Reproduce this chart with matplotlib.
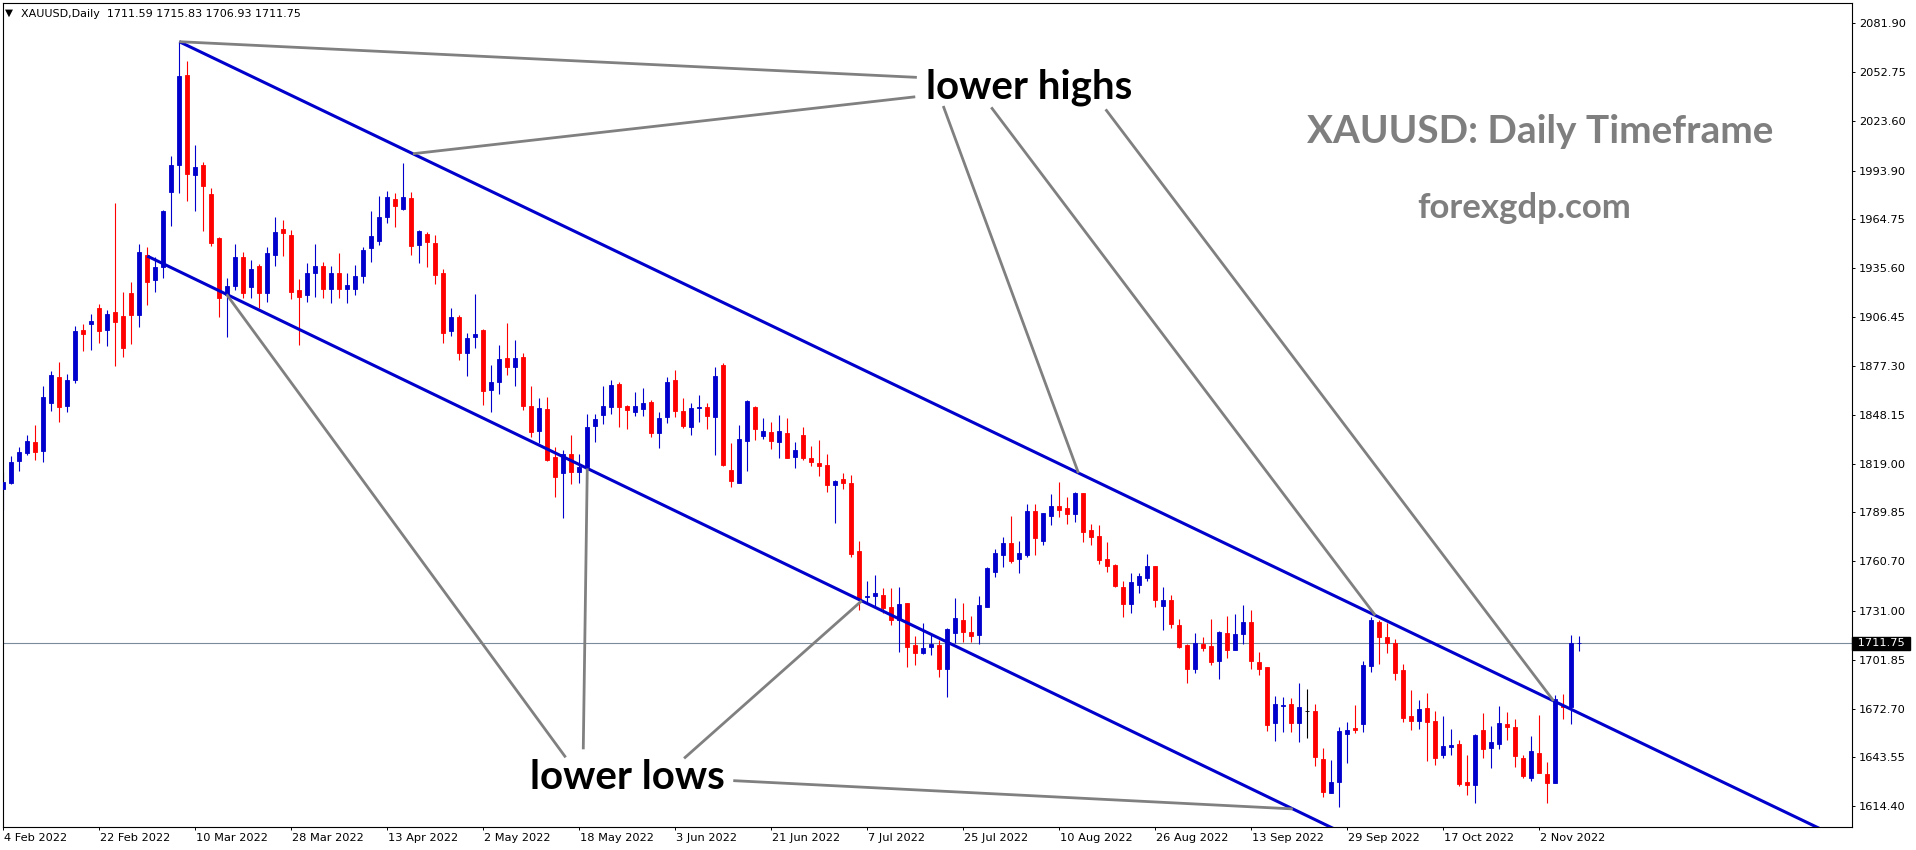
import matplotlib
matplotlib.use("Agg")
import matplotlib.pyplot as plt
import matplotlib.transforms as mtrans
import numpy as np

# daily candles XAUUSD, 4 Feb 2022 .. 9 Nov 2022
opens = [1803.6, 1807.6, 1820.5, 1825.1, 1832.0, 1826.7, 1855.4, 1870.5, 1853.4, 1869.0,
         1898.8, 1902.4, 1911.7, 1898.8, 1909.7, 1907.1, 1920.6, 1907.7, 1943.5, 1928.6,
         1936.5, 1981.3, 1997.2, 2050.9, 1991.2, 1997.2, 1979.9, 1953.9, 1919.6, 1924.9,
         1942.1, 1924.5, 1936.9, 1921.0, 1943.5, 1958.8, 1955.4, 1922.6, 1919.6, 1932.9,
         1936.9, 1923.5, 1932.5, 1923.0, 1923.5, 1930.9, 1947.5, 1952.0, 1966.4, 1976.7,
         1971.3, 1977.3, 1949.5, 1956.0, 1950.9, 1932.9, 1898.4, 1906.3, 1885.2, 1894.7,
         1899.0, 1862.9, 1867.9, 1881.8, 1876.4, 1882.4, 1853.3, 1838.6, 1851.3, 1823.1,
         1813.5, 1824.7, 1814.1, 1816.7, 1841.4, 1847.9, 1852.9, 1866.5, 1853.3, 1849.9,
         1851.3, 1855.9, 1837.0, 1846.6, 1868.8, 1850.5, 1840.6, 1852.0, 1852.5, 1847.0,
         1877.8, 1815.1, 1807.6, 1832.6, 1852.9, 1835.4, 1838.0, 1832.0, 1837.4, 1823.1,
         1836.0, 1822.5, 1819.5, 1818.1, 1806.2, 1809.5, 1807.2, 1766.9, 1739.1, 1739.9,
         1740.5, 1733.5, 1725.5, 1735.5, 1710.6, 1706.1, 1709.2, 1710.6, 1696.1, 1717.6,
         1725.5, 1718.6, 1716.6, 1733.5, 1754.4, 1764.4, 1771.3, 1761.8, 1764.4, 1790.7,
         1772.9, 1787.9, 1793.6, 1792.2, 1788.9, 1801.6, 1779.3, 1775.7, 1761.8, 1758.4,
         1745.5, 1735.1, 1746.5, 1750.9, 1757.8, 1734.1, 1737.5, 1722.6, 1710.7, 1696.3,
         1711.2, 1710.1, 1701.3, 1717.6, 1707.7, 1717.2, 1724.2, 1700.7, 1697.7, 1663.9,
         1674.0, 1675.4, 1664.3, 1671.4, 1671.2, 1642.6, 1622.5, 1629.1, 1657.5, 1661.3,
         1663.5, 1698.3, 1724.6, 1715.6, 1711.7, 1695.7, 1668.3, 1665.5, 1673.0, 1665.3,
         1645.0, 1649.9, 1651.5, 1629.1, 1627.1, 1659.9, 1649.4, 1651.5, 1663.3, 1661.9,
         1643.0, 1631.4, 1646.0, 1633.6, 1628.5, 1674.6, 1673.8, 1711.59]
highs = [1814.1, 1823.5, 1829.1, 1836.0, 1842.0, 1865.3, 1874.4, 1879.8, 1872.5, 1901.2,
         1902.4, 1908.3, 1914.3, 1910.7, 1974.7, 1921.6, 1927.6, 1950.1, 1948.1, 1942.1,
         1970.7, 2002.6, 2070.9, 2059.3, 2009.2, 1998.8, 1983.3, 1954.4, 1929.6, 1950.1,
         1945.1, 1940.5, 1937.9, 1948.1, 1966.0, 1964.4, 1958.4, 1929.0, 1938.5, 1950.1,
         1939.5, 1936.9, 1944.5, 1932.9, 1937.5, 1948.1, 1969.9, 1978.7, 1981.9, 1980.3,
         1998.2, 1981.3, 1958.4, 1957.4, 1955.4, 1934.9, 1911.7, 1907.7, 1897.1, 1920.2,
         1899.6, 1877.8, 1889.7, 1903.0, 1892.7, 1885.2, 1865.3, 1857.9, 1858.5, 1828.7,
         1827.1, 1836.0, 1824.7, 1848.9, 1848.9, 1865.3, 1869.2, 1867.9, 1853.9, 1861.9,
         1863.9, 1856.9, 1849.9, 1870.8, 1874.8, 1857.9, 1854.9, 1859.9, 1855.3, 1876.4,
         1879.2, 1831.4, 1842.0, 1856.9, 1853.3, 1846.0, 1844.0, 1848.0, 1846.0, 1832.0,
         1840.6, 1829.4, 1833.0, 1824.7, 1809.2, 1813.5, 1812.1, 1772.9, 1749.0, 1752.4,
         1744.5, 1744.5, 1745.5, 1735.9, 1716.0, 1723.6, 1716.6, 1713.6, 1720.6, 1738.5,
         1735.5, 1727.9, 1739.9, 1757.0, 1768.2, 1775.3, 1787.7, 1772.7, 1794.8, 1794.8,
         1789.6, 1800.8, 1808.2, 1799.2, 1802.2, 1801.6, 1782.9, 1782.3, 1772.3, 1759.0,
         1748.9, 1753.4, 1753.4, 1765.0, 1757.8, 1745.5, 1740.5, 1726.0, 1711.2, 1718.0,
         1715.6, 1726.0, 1719.2, 1728.0, 1729.2, 1734.5, 1731.5, 1706.7, 1697.7, 1680.2,
         1679.8, 1678.8, 1688.2, 1684.2, 1675.4, 1648.9, 1642.0, 1661.9, 1664.9, 1674.8,
         1701.1, 1727.6, 1725.6, 1724.0, 1714.2, 1699.3, 1683.8, 1677.8, 1682.2, 1671.4,
         1668.3, 1660.5, 1653.9, 1645.0, 1657.5, 1670.3, 1662.3, 1674.2, 1670.7, 1666.3,
         1645.0, 1656.3, 1668.9, 1640.8, 1680.8, 1681.4, 1716.6, 1715.83]
lows = [1791.3, 1806.9, 1814.7, 1824.1, 1821.1, 1820.1, 1850.6, 1844.0, 1850.0, 1867.4,
        1886.3, 1886.7, 1891.1, 1889.2, 1877.2, 1882.4, 1890.7, 1900.7, 1913.7, 1921.6,
        1929.6, 1960.8, 1980.7, 1976.0, 1969.9, 1958.0, 1948.9, 1906.8, 1894.7, 1922.9,
        1917.7, 1917.7, 1911.7, 1915.7, 1936.9, 1943.1, 1917.1, 1889.7, 1915.7, 1918.6,
        1917.7, 1915.0, 1917.7, 1914.6, 1919.6, 1926.8, 1939.5, 1949.5, 1962.4, 1960.4,
        1970.7, 1943.5, 1938.9, 1936.5, 1926.1, 1891.1, 1895.1, 1880.8, 1871.2, 1887.8,
        1853.9, 1850.0, 1860.5, 1871.8, 1865.3, 1850.9, 1835.0, 1831.0, 1820.7, 1798.8,
        1786.3, 1806.8, 1807.2, 1815.5, 1832.0, 1842.6, 1848.5, 1841.0, 1839.4, 1847.4,
        1847.4, 1834.6, 1828.1, 1843.4, 1847.0, 1840.0, 1836.0, 1844.0, 1839.4, 1824.1,
        1817.5, 1804.8, 1807.2, 1814.7, 1833.0, 1833.4, 1827.5, 1822.1, 1822.1, 1816.1,
        1821.1, 1817.5, 1811.5, 1802.2, 1783.7, 1803.6, 1763.4, 1731.5, 1735.1, 1733.9,
        1729.9, 1722.6, 1706.7, 1697.3, 1698.7, 1705.3, 1704.7, 1691.7, 1679.8, 1711.6,
        1712.6, 1712.6, 1711.2, 1733.5, 1751.4, 1757.4, 1759.8, 1753.8, 1763.0, 1764.4,
        1770.4, 1782.3, 1787.3, 1782.9, 1784.3, 1772.3, 1770.4, 1759.0, 1754.4, 1745.1,
        1727.2, 1730.0, 1741.9, 1749.1, 1733.5, 1719.6, 1720.6, 1708.7, 1688.2, 1693.7,
        1707.3, 1698.7, 1690.4, 1702.7, 1707.7, 1711.2, 1696.3, 1692.7, 1659.5, 1653.5,
        1658.9, 1658.9, 1652.9, 1654.9, 1638.4, 1620.1, 1622.5, 1614.1, 1640.4, 1658.3,
        1658.9, 1694.7, 1699.3, 1706.1, 1689.8, 1664.9, 1659.9, 1660.5, 1641.6, 1639.0,
        1643.4, 1645.0, 1626.5, 1621.1, 1616.5, 1643.0, 1637.4, 1648.8, 1653.9, 1637.6,
        1631.0, 1629.7, 1634.0, 1616.1, 1628.1, 1666.3, 1663.5, 1706.93]
closes = [1808.1, 1820.1, 1825.7, 1832.6, 1826.1, 1858.9, 1871.9, 1853.0, 1869.0, 1898.2,
          1896.3, 1904.3, 1898.4, 1908.3, 1903.7, 1887.8, 1907.7, 1945.5, 1927.6, 1936.5,
          1969.9, 1997.2, 2050.3, 1991.8, 1996.2, 1984.7, 1950.9, 1917.7, 1924.9, 1942.3,
          1920.6, 1934.9, 1921.0, 1944.5, 1957.0, 1956.8, 1921.6, 1918.6, 1932.9, 1936.9,
          1923.5, 1932.5, 1923.5, 1925.5, 1930.9, 1946.5, 1954.8, 1966.0, 1977.9, 1972.7,
          1978.3, 1948.9, 1958.0, 1951.5, 1931.5, 1897.1, 1906.3, 1885.2, 1893.7, 1896.3,
          1862.5, 1867.9, 1881.2, 1876.8, 1881.8, 1853.3, 1838.0, 1851.9, 1821.1, 1811.1,
          1824.7, 1814.1, 1817.1, 1840.6, 1845.4, 1853.3, 1865.9, 1852.9, 1850.9, 1853.3,
          1855.3, 1837.4, 1846.0, 1867.9, 1850.5, 1841.4, 1851.9, 1852.5, 1847.4, 1871.2,
          1818.1, 1808.7, 1833.4, 1856.5, 1839.4, 1838.6, 1832.6, 1838.6, 1822.1, 1827.1,
          1822.1, 1820.1, 1817.5, 1806.2, 1808.6, 1807.6, 1764.9, 1737.9, 1739.7, 1741.9,
          1732.5, 1725.9, 1735.1, 1709.6, 1706.1, 1708.6, 1711.2, 1696.1, 1720.0, 1726.6,
          1718.6, 1716.0, 1734.5, 1756.4, 1765.4, 1771.3, 1761.0, 1765.4, 1790.7, 1774.7,
          1789.6, 1793.6, 1791.3, 1788.9, 1801.6, 1778.3, 1775.3, 1761.4, 1757.8, 1746.1,
          1735.1, 1748.3, 1751.8, 1757.8, 1737.5, 1737.5, 1723.2, 1709.3, 1696.3, 1712.0,
          1709.1, 1700.7, 1718.6, 1707.7, 1717.2, 1724.2, 1701.1, 1696.3, 1662.9, 1675.4,
          1674.6, 1664.3, 1673.4, 1671.4, 1644.0, 1623.1, 1628.7, 1659.3, 1659.9, 1659.9,
          1698.7, 1725.6, 1715.6, 1712.0, 1694.1, 1667.3, 1665.5, 1672.4, 1664.9, 1643.4,
          1650.4, 1650.9, 1627.7, 1627.1, 1656.9, 1648.6, 1652.7, 1663.9, 1661.9, 1644.6,
          1632.4, 1647.4, 1634.4, 1628.5, 1678.2, 1673.6, 1711.8, 1711.75]

date_labels = ["4 Feb 2022", "22 Feb 2022", "10 Mar 2022", "28 Mar 2022", "13 Apr 2022",
               "2 May 2022", "18 May 2022", "3 Jun 2022", "21 Jun 2022", "7 Jul 2022",
               "25 Jul 2022", "10 Aug 2022", "26 Aug 2022", "13 Sep 2022", "29 Sep 2022",
               "17 Oct 2022", "2 Nov 2022"]
price_ticks = [2081.90, 2052.75, 2023.60, 1993.90, 1964.75, 1935.60, 1906.45, 1877.30,
               1848.15, 1819.00, 1789.85, 1760.70, 1731.00, 1701.85, 1672.70, 1643.55, 1614.40]
last_price = 1711.75
header = "XAUUSD,Daily  1711.59 1715.83 1706.93 1711.75"

# channel lines: (start bar, start price, slope per bar)
upper_ch = (22, 2070.9, -2.291)
lower_ch = (18, 1942.9, -2.305)


def chan(c, b):
    return c[1] + c[2] * (b - c[0])


W, H = 1916, 850
fig = plt.figure(figsize=(W / 100, H / 100), dpi=100)
fig.patch.set_facecolor("white")
left, right, top, bottom = 2.7, 1852, 3, 826.7
ax = fig.add_axes([left / W, 1 - bottom / H, (right - left) / W, (bottom - top) / H])
ax.set_xlim(-0.075, 231.1)
ax.set_ylim(1602.2, 2094.0)

o = np.array(opens)
h = np.array(highs)
l = np.array(lows)
c = np.array(closes)
idx = np.arange(len(o))
cols = np.where(c > o, "#0000cc", np.where(c < o, "#ff0000", "black"))

# current price line
ax.axhline(last_price, color="#7b8b9b", lw=0.8, zorder=1)

# wicks and bodies
ax.vlines(idx, l, h, colors=cols, lw=0.8, zorder=2)
body_lo = np.minimum(o, c)
body_h = np.abs(c - o)
ax.bar(idx, body_h, bottom=body_lo, width=0.55, color=cols, edgecolor=cols,
       linewidth=0.6, zorder=3)

# channel
xs = np.array([upper_ch[0], 240])
ax.plot(xs, chan(upper_ch, xs), color="#0000cc", lw=2.2, zorder=4,
        solid_capstyle="butt")
xs = np.array([lower_ch[0], 240])
ax.plot(xs, chan(lower_ch, xs), color="#0000cc", lw=2.2, zorder=4,
        solid_capstyle="butt")

# gray pointer lines
grey = "#808080"
hl_lines = [((22, 2070.9), (114.2, 2049.6)),
            ((51.2, chan(upper_ch, 51.2)), (114.0, 2038.0)),
            ((117.5, 2032.5), (134.4, chan(upper_ch, 134.4))),
            ((123.5, 2031.7), (171.5, chan(upper_ch, 171.5))),
            ((137.8, 2030.5), (193.8, chan(upper_ch, 193.8)))]
ll_lines = [((27.9, chan(lower_ch, 27.9)), (70.3, 1643.6)),
            ((73.0, chan(lower_ch, 73.0)), (72.5, 1648.4)),
            ((107.3, chan(lower_ch, 107.3)), (85.1, 1643.0)),
            ((91.25, 1629.7), (161.2, chan(lower_ch, 161.2)))]
for p0, p1 in hl_lines + ll_lines:
    ax.plot([p0[0], p1[0]], [p0[1], p1[1]], color=grey, lw=2.0, zorder=5,
            solid_capstyle="butt")

big = dict(family="Lato", weight="bold", fontsize=29)
ax.text(115.4, 2037.1, "lower highs", color="black", ha="left", va="baseline", zorder=6, **big)
ax.text(65.8, 1624.5, "lower lows", color="black", ha="left", va="baseline", zorder=6, **big)
ax.text(163.0, 2010.6, "XAUUSD: Daily Timeframe", color="#7f7f7f", ha="left",
        va="baseline", family="Lato", weight="bold", fontsize=27.9, zorder=6)
ax.text(176.75, 1965.4, "forexgdp.com", color="#7f7f7f", ha="left",
        va="baseline", family="Lato", weight="bold", fontsize=25, zorder=6)

# axes styling
for s in ax.spines.values():
    s.set_color("black")
    s.set_linewidth(0.8)
ax.yaxis.tick_right()
ax.set_yticks(price_ticks)
ax.set_yticklabels(["%.2f" % v for v in price_ticks])
ax.tick_params(axis="y", direction="out", length=2.2, width=0.7, pad=3,
               labelsize=8.2, colors="black")
ax.set_xticks(range(0, 12 * len(date_labels), 12))
ax.set_xticklabels(date_labels, ha="left")
ax.tick_params(axis="x", direction="out", length=2.2, width=0.7, pad=2,
               labelsize=8.2, colors="black")
for t in ax.get_xticklabels():
    t.set_transform(t.get_transform() + mtrans.ScaledTranslation(1 / 100, 0, fig.dpi_scale_trans))

# last price box
bt = mtrans.blended_transform_factory(ax.transAxes, ax.transData)
ax.text(1.0, last_price, " 1711.75 ", transform=bt + mtrans.ScaledTranslation(2 / 100, 0, fig.dpi_scale_trans),
        ha="left", va="center", color="white", fontsize=8.2,
        bbox=dict(boxstyle="square,pad=0.15", fc="black", ec="black"))

# header
fig.text(5 / W, 1 - 15.5 / H, "\u25bc", fontsize=7.5, color="black", va="baseline")
fig.text(20.7 / W, 1 - 16.7 / H, header, fontsize=8.0, color="black", va="baseline")

fig.savefig("out.png", dpi=100)
